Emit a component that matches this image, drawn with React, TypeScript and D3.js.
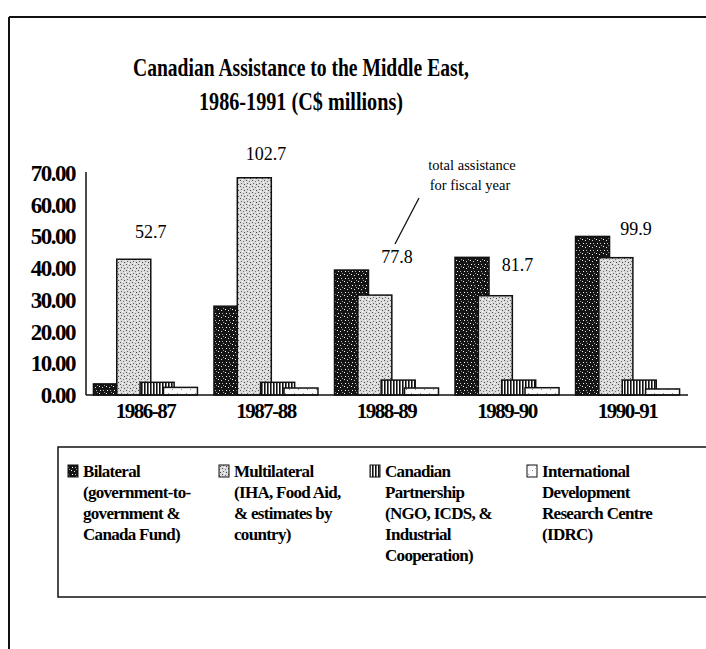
import React from "react";
import * as d3 from "d3";

const categories = ["1986-87", "1987-88", "1988-89", "1989-90", "1990-91"];
const seriesNames = ["Bilateral", "Multilateral", "Partnership", "IDRC"];
const bilateral = [3.5, 28.0, 39.4, 43.4, 50.0];
const multilateral = [42.8, 68.5, 31.5, 31.3, 43.3];
const partnership = [4.0, 4.0, 4.7, 4.7, 4.7];
const idrc = [2.4, 2.2, 2.2, 2.3, 1.9];
const totals = ["52.7", "102.7", "77.8", "81.7", "99.9"];
const yTicks = [0, 10, 20, 30, 40, 50, 60, 70];

const legendLines = [
  ["Bilateral", "(government-to-", "government &", "Canada Fund)"],
  ["Multilateral", "(IHA, Food Aid,", "& estimates by", "country)"],
  ["Canadian", "Partnership", "(NGO, ICDS, &", "Industrial", "Cooperation)"],
  ["International", "Development", "Research Centre", "(IDRC)"],
];

const W = 706;
const H = 649;
const FONT = "'Liberation Serif', 'Times New Roman', serif";

export default function App() {
  const values = [bilateral, multilateral, partnership, idrc];
  const y = d3.scaleLinear().domain([0, 70]).range([395, 173]);
  const x = d3
    .scaleBand<string>()
    .domain(categories)
    .range([85, 688])
    .paddingInner(0.137)
    .paddingOuter(0.07);
  const barW = 34;
  const sub = d3
    .scaleLinear()
    .domain([0, seriesNames.length - 1])
    .range([0, x.bandwidth() - barW]);
  const fills = ["url(#pBil)", "url(#pMul)", "url(#pPar)", "url(#pIdr)"];
  const legendX = [68, 219, 370, 527];

  const totalPos = [
    { dx: 0.55, v: 49.5 },
    { dx: 0.5, v: 74 },
    { dx: 0.6, v: 41.5 },
    { dx: 0.6, v: 39 },
    { dx: 0.58, v: 50.5 },
  ];

  return (
    <svg
      width={W}
      height={H}
      style={{ position: "absolute", left: 0, top: 0, background: "#fff" }}
      fontFamily={FONT}
    >
      <defs>
        <pattern id="pBil" width="7" height="7" patternUnits="userSpaceOnUse">
          <rect width="7" height="7" fill="#151515" />
          <rect x="1" y="1" width="1" height="1" fill="#fff" />
          <rect x="4" y="2" width="1" height="1" fill="#ddd" />
          <rect x="2" y="5" width="1" height="1" fill="#fff" />
          <rect x="5" y="5" width="1" height="1" fill="#bbb" />
          <rect x="6" y="0" width="1" height="1" fill="#999" />
        </pattern>
        <pattern id="pMul" width="6" height="6" patternUnits="userSpaceOnUse">
          <rect width="6" height="6" fill="#dadada" />
          <rect x="0" y="0" width="1" height="1" fill="#555" />
          <rect x="3" y="1" width="1" height="1" fill="#777" />
          <rect x="1" y="3" width="1" height="1" fill="#666" />
          <rect x="4" y="4" width="1" height="1" fill="#444" />
          <rect x="5" y="2" width="1" height="1" fill="#fff" />
          <rect x="2" y="5" width="1" height="1" fill="#fff" />
        </pattern>
        <pattern id="pPar" width="3" height="3" patternUnits="userSpaceOnUse">
          <rect width="3" height="3" fill="#fff" />
          <rect x="0" y="0" width="1.6" height="3" fill="#111" />
        </pattern>
        <pattern id="pIdr" width="9" height="9" patternUnits="userSpaceOnUse">
          <rect width="9" height="9" fill="#fafafa" />
          <rect x="1" y="2" width="1" height="1" fill="#888" />
          <rect x="6" y="6" width="1" height="1" fill="#999" />
          <rect x="4" y="0" width="1" height="1" fill="#bbb" />
        </pattern>
      </defs>

      {/* outer frame */}
      <line x1={9} y1={17} x2={W} y2={17} stroke="#111" strokeWidth={2} />
      <line x1={9} y1={17} x2={9} y2={H} stroke="#111" strokeWidth={2} />

      {/* title */}
      <text
        x={301}
        y={76}
        textAnchor="middle"
        fontWeight="bold"
        fontSize={26}
        textLength={336}
        lengthAdjust="spacingAndGlyphs"
      >
        Canadian Assistance to the Middle East,
      </text>
      <text
        x={301}
        y={110}
        textAnchor="middle"
        fontWeight="bold"
        fontSize={26}
        textLength={204}
        lengthAdjust="spacingAndGlyphs"
      >
        1986-1991 (C$ millions)
      </text>

      {/* y ticks */}
      {yTicks.map((t) => (
        <text
          key={t}
          x={75}
          y={y(t) + 8}
          textAnchor="end"
          fontWeight="bold"
          fontSize={23}
          letterSpacing={-1.5}
        >
          {t.toFixed(2)}
        </text>
      ))}

      {/* bars */}
      {categories.map((c, ci) => (
        <g key={c}>
          {values.map((arr, si) => (
            <rect
              key={si}
              x={(x(c) as number) + sub(si)}
              y={y(arr[ci])}
              width={barW}
              height={y(0) - y(arr[ci])}
              fill={fills[si]}
              stroke="#111"
              strokeWidth={1.5}
            />
          ))}
        </g>
      ))}

      {/* axes */}
      <line x1={86} y1={y(70) - 1} x2={86} y2={y(0)} stroke="#111" strokeWidth={1.5} />
      <line x1={86} y1={y(0)} x2={688} y2={y(0)} stroke="#111" strokeWidth={1.5} />

      {/* category labels */}
      {categories.map((c) => (
        <text
          key={c}
          x={(x(c) as number) + x.bandwidth() / 2}
          y={418}
          textAnchor="middle"
          fontWeight="bold"
          fontSize={21}
          letterSpacing={-1.5}
        >
          {c}
        </text>
      ))}

      {/* totals */}
      {categories.map((c, ci) => (
        <text
          key={c}
          x={(x(c) as number) + x.bandwidth() * totalPos[ci].dx}
          y={y(totalPos[ci].v)}
          textAnchor="middle"
          fontSize={18}
        >
          {totals[ci]}
        </text>
      ))}

      {/* annotation */}
      <text x={472} y={170} textAnchor="middle" fontSize={14.5}>
        total assistance
      </text>
      <text x={470} y={190} textAnchor="middle" fontSize={14.5}>
        for fiscal year
      </text>
      <line x1={419} y1={198} x2={395} y2={244} stroke="#111" strokeWidth={1.3} />

      {/* legend */}
      <rect x={58} y={447} width={W} height={150} fill="none" stroke="#111" strokeWidth={1.5} />
      {legendLines.map((lines, i) => (
        <g key={i}>
          <rect
            x={legendX[i]}
            y={465}
            width={10}
            height={12}
            fill={fills[i]}
            stroke="#111"
            strokeWidth={1}
          />
          {lines.map((ln, li) => (
            <text
              key={li}
              x={legendX[i] + 15}
              y={477 + li * 21}
              fontSize={17}
              fontWeight="bold"
              letterSpacing={-0.7}
            >
              {ln}
            </text>
          ))}
        </g>
      ))}
    </svg>
  );
}
